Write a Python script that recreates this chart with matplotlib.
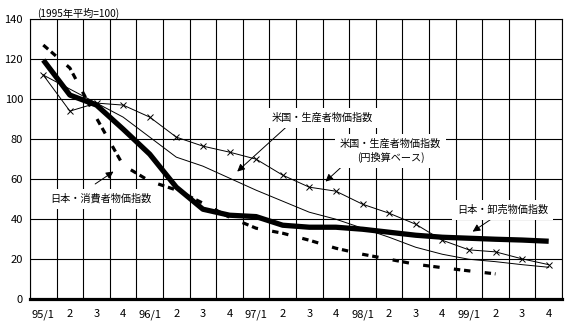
import numpy as np
from matplotlib import pyplot as plt

plt.rcParams['font.family'] = ['Noto Sans CJK JP', 'DejaVu Sans']

quarters = ['95/1', '2', '3', '4', '96/1', '2', '3', '4', '97/1', '2', '3', '4',
            '98/1', '2', '3', '4', '99/1', '2', '3', '4']

# 日本・卸売物価指数 (thick line)
jp_wholesale = [119.5, 102, 97, 85, 72.5, 56, 45, 42, 41.3, 37, 36, 36,
                35, 33.5, 32, 31, 30.5, 30, 29.6, 29]
# 日本・消費者物価指数 (dashed, ends at 99/2)
jp_consumer = [127, 115.5, 90.5, 67, 59, 54.6, 48, 41, 35.5, 33, 29.5, 25.5,
               22.5, 20, 17.5, 15.8, 14.2, 12.7]
# 米国・生産者物価指数 (dollar basis)
us_producer = [112, 105, 98, 91, 81, 71, 66.5, 60.5, 54.5, 49, 43.5, 40,
               35.5, 31, 26, 22.5, 20, 18.8, 17.3, 16]
# 米国・生産者物価指数 (円換算ベース)
us_producer_yen = [112, 94, 98, 97, 91, 81, 76.5, 73.5, 70, 62, 56, 54,
                   47.5, 43, 37.5, 29.5, 24.7, 23.7, 20.2, 17.3]


def draw_arrow(ax, head, tail):
    ax.annotate('', xy=head, xytext=tail,
                arrowprops=dict(arrowstyle='-|>', color='black', lw=0.7,
                                mutation_scale=11, shrinkA=0, shrinkB=0))


def draw_label(ax, xy, s):
    ax.text(xy[0], xy[1], s, fontsize=7.3, ha='center', va='center',
            linespacing=1.3, zorder=6,
            bbox=dict(boxstyle='square,pad=0.5', fc='white', ec='none'))


fig = plt.figure(figsize=(5.65, 3.27), dpi=100)
ax = fig.add_axes([30 / 565, 1 - 299.3 / 327, 532 / 565, 280.3 / 327])

x = np.arange(len(quarters))

for v in np.arange(-0.5, 20, 1):
    ax.axvline(v, color='black', lw=0.8, zorder=1)
for h in range(20, 141, 20):
    ax.axhline(h, color='black', lw=0.8, zorder=1)

ax.plot(x, us_producer, color='black', lw=0.7, zorder=3)
ax.plot(x, us_producer_yen, color='black', lw=0.7, marker='x', ms=4.5, mew=0.7, zorder=3)
ax.plot(x[:len(jp_consumer)], jp_consumer, color='black', lw=2.3, zorder=4,
        dashes=(2.0, 1.2, 2.0, 4.5))
ax.plot(x, jp_wholesale, color='black', lw=3.8, zorder=5, solid_capstyle='butt')

ax.set_xlim(-0.5, 19.5)
ax.set_ylim(0, 140)
ax.set_yticks(range(0, 141, 20))
ax.set_xticks(x)
ax.set_xticklabels(quarters)
ax.tick_params(length=0, labelsize=8)
ax.tick_params(axis='y', pad=5)
ax.tick_params(axis='x', pad=7)

for s in ['left', 'right', 'top']:
    ax.spines[s].set_linewidth(0.8)
ax.spines['bottom'].set_linewidth(2.3)

draw_label(ax, (2.17, 50.2), '日本・消費者物価指数')
draw_arrow(ax, (2.64, 63.8), (1.95, 57.6))

draw_label(ax, (10.5, 90.6), '米国・生産者物価指数')
draw_arrow(ax, (7.29, 63.8), (9.23, 87.2))

draw_label(ax, (13.06, 74.2), '米国・生産者物価指数\n(円換算ベース)')
draw_arrow(ax, (10.61, 58.8), (11.3, 67.2))

draw_label(ax, (17.27, 44.6), '日本・卸売物価指数')
draw_arrow(ax, (16.14, 33.8), (16.89, 40.5))

fig.text(37 / 565, 1 - 13 / 327, '(1995年平均=100)', fontsize=7.3, ha='left', va='center')

fig.savefig('out.png', dpi=100)
